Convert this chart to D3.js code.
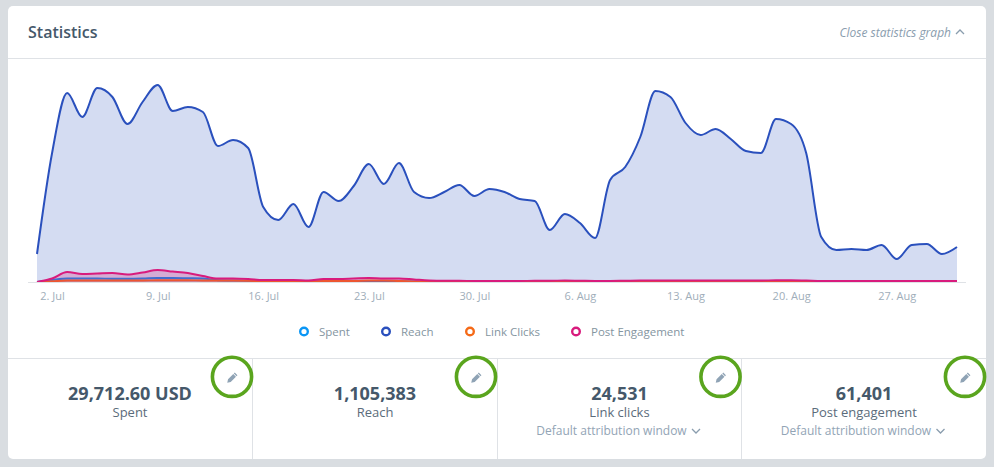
<!DOCTYPE html>
<html>
<head>
<meta charset="utf-8">
<style>
html, body { margin: 0; padding: 0; background: #d9dde1; }
svg { display: block; font-family: 'Open Sans', sans-serif; }
</style>
<script src="https://cdn.jsdelivr.net/npm/d3@7"></script>
</head>
<body>
<svg></svg>
<script>
const startDay = Date.UTC( 2018, 6, 1 ),
	dayMs = 86400000

// daily values
const reach = [
	5600, 25800, 37800, 33000, 38800, 37000, 31600, 36000, 39400, 34200,
	35000, 34000, 27200, 28400, 26800, 15000, 12400, 15600, 11000, 18000,
	16200, 19200, 23600, 19600, 23800, 18000, 16800, 18000, 19400, 17200,
	18600, 18000, 16600, 16200, 10400, 13600, 11800, 8800, 20400, 23000,
	29000, 38200, 37000, 31800, 29400, 30600, 28600, 26200, 25800, 32600,
	31600, 25800, 9000, 6400, 6600, 6400, 7400, 4600, 7400, 7600,
	5600, 7000
]
const postEngagement = [
	0, 700, 2000, 1600, 1700, 1800, 1500, 1900, 2400, 2100,
	1800, 1200, 700, 700, 600, 400, 400, 400, 300, 600,
	600, 700, 800, 700, 700, 500, 300, 250, 250, 200,
	200, 200, 200, 250, 250, 300, 250, 200, 200, 250,
	300, 300, 300, 300, 300, 300, 300, 300, 300, 350,
	350, 300, 200, 200, 200, 200, 200, 200, 200, 200,
	200, 200
]
const linkClicks = [
	0, 150, 300, 300, 300, 300, 300, 300, 350, 350,
	350, 300, 300, 300, 250, 100, 100, 100, 100, 200,
	200, 200, 300, 300, 200, 100, 50, 50, 50, 50,
	50, 50, 50, 50, 50, 50, 50, 50, 50, 50,
	50, 100, 100, 100, 100, 100, 100, 100, 100, 100,
	100, 100, 50, 50, 50, 50, 50, 50, 50, 50,
	50, 50
]
const spent = [
	0, 400, 700, 700, 700, 650, 650, 700, 800, 800,
	750, 700, 350, 300, 250, 100, 100, 100, 100, 150,
	150, 200, 200, 200, 150, 100, 50, 50, 50, 50,
	50, 50, 50, 50, 50, 50, 50, 50, 50, 50,
	50, 50, 50, 50, 50, 50, 50, 50, 50, 50,
	50, 50, 50, 50, 50, 50, 50, 50, 50, 50,
	50, 50
]
const seriesNames = [ 'Spent', 'Reach', 'Link Clicks', 'Post Engagement' ]
const seriesValues = [ spent, reach, linkClicks, postEngagement ]
const seriesColors = [ '#0a96f5', '#2a50bd', '#f56a18', '#d81b7d' ]
const fillOpacity = [ 0.2, 0.2, 0.2, 0.25 ]
const legendX = [ 304, 386, 470, 576 ]

const tickDays = [ 1, 8, 15, 22, 29, 36, 43, 50, 57 ]

const statNumbers = [ '29,712.60 USD', '1,105,383', '24,531', '61,401' ]
const statLabels = [ 'Spent', 'Reach', 'Link clicks', 'Post engagement' ]
const statWindow = [ false, false, true, true ]
const statCenters = [ 130, 375, 619.5, 864 ]
const ringCenters = [ 232, 476, 720.5, 965 ]
const dividers = [ 252.5, 497.5, 741.5 ]

const WIDTH = 994,
	HEIGHT = 467,
	BASE = 282

const svg = d3.select( 'svg' ).attr( 'width', WIDTH ).attr( 'height', HEIGHT )

// card
svg.append( 'rect' )
	.attr( 'x', 8 ).attr( 'y', 6 )
	.attr( 'width', 970 + 8 ).attr( 'height', 453 )
	.attr( 'rx', 5 )
	.attr( 'fill', '#fff' )

const rule = ( x1, y1, x2, y2 ) => svg.append( 'line' )
	.attr( 'x1', x1 ).attr( 'y1', y1 ).attr( 'x2', x2 ).attr( 'y2', y2 )
	.attr( 'stroke', '#dfe2e6' )

rule( 8, 58.5, 986, 58.5 )
rule( 8, 358.5, 986, 358.5 )
dividers.forEach( d => rule( d, 358.5, d, 459 ) )

svg.append( 'text' )
	.attr( 'x', 28 ).attr( 'y', 38 )
	.attr( 'font-size', 16 ).attr( 'font-weight', 600 )
	.attr( 'fill', '#45586a' )
	.text( 'Statistics' )

svg.append( 'text' )
	.attr( 'x', 951 ).attr( 'y', 37 )
	.attr( 'text-anchor', 'end' )
	.attr( 'font-size', 12 ).attr( 'font-style', 'italic' )
	.attr( 'fill', '#8a9dae' )
	.text( 'Close statistics graph' )

const chevron = ( cx, cy, up ) => svg.append( 'path' )
	.attr( 'd', `M${cx - 4},${cy + ( up ? 2 : -2 )}L${cx},${cy + ( up ? -2 : 2 )}L${cx + 4},${cy + ( up ? 2 : -2 )}` )
	.attr( 'fill', 'none' )
	.attr( 'stroke', '#8a9dae' )
	.attr( 'stroke-width', 1.3 )

chevron( 960, 32, true )

// chart
const x = d3.scaleUtc()
	.domain( [ startDay, startDay + dayMs * ( reach.length - 1 ) ] )
	.range( [ 37, 957 ] )
const y = d3.scaleLinear().domain( [ 0, 40000 ] ).range( [ BASE, 82 ] )

const dateOf = i => new Date( startDay + dayMs * i )

const area = d3.area()
	.x( ( d, i ) => x( dateOf( i ) ) )
	.y0( y( 0 ) )
	.y1( d => y( d ) )
	.curve( d3.curveMonotoneX )
const line = d3.line()
	.x( ( d, i ) => x( dateOf( i ) ) )
	.y( d => y( d ) )
	.curve( d3.curveMonotoneX )

seriesValues.forEach( ( values, s ) => {
	svg.append( 'path' )
		.datum( values )
		.attr( 'fill', seriesColors[ s ] )
		.attr( 'fill-opacity', fillOpacity[ s ] )
		.attr( 'd', area )
	svg.append( 'path' )
		.datum( values )
		.attr( 'fill', 'none' )
		.attr( 'stroke', seriesColors[ s ] )
		.attr( 'stroke-width', 2 )
		.attr( 'stroke-linejoin', 'round' )
		.attr( 'd', line )
})

rule( 28, BASE + 0.5, 966, BASE + 0.5 )

const axis = svg.append( 'g' )
	.attr( 'transform', `translate( 0, ${BASE} )` )
	.call( d3.axisBottom( x )
		.tickValues( tickDays.map( dateOf ) )
		.tickFormat( d3.utcFormat( '%-d. %b' ) )
		.tickSize( 0 )
		.tickPadding( 10 ) )
axis.select( '.domain' ).remove()
axis.selectAll( 'text' )
	.attr( 'font-family', "'Open Sans', sans-serif" )
	.attr( 'font-size', 11 )
	.attr( 'fill', '#a0aeba' )

// legend
seriesNames.forEach( ( name, s ) => {
	svg.append( 'circle' )
		.attr( 'cx', legendX[ s ] ).attr( 'cy', 331.5 ).attr( 'r', 3.8 )
		.attr( 'fill', '#fff' )
		.attr( 'stroke', seriesColors[ s ] )
		.attr( 'stroke-width', 2.4 )
	svg.append( 'text' )
		.attr( 'x', legendX[ s ] + 15 ).attr( 'y', 336 )
		.attr( 'font-size', 11.5 )
		.attr( 'fill', '#84959f' )
		.text( name )
})

// stat boxes
statNumbers.forEach( ( num, i ) => {
	const cx = statCenters[ i ]
	svg.append( 'text' )
		.attr( 'x', cx ).attr( 'y', 400 )
		.attr( 'text-anchor', 'middle' )
		.attr( 'font-size', 18 ).attr( 'font-weight', 700 )
		.attr( 'fill', '#45586a' )
		.text( num )
	svg.append( 'text' )
		.attr( 'x', cx ).attr( 'y', 417 )
		.attr( 'text-anchor', 'middle' )
		.attr( 'font-size', 13 )
		.attr( 'fill', '#5b6c7b' )
		.text( statLabels[ i ] )
	if ( statWindow[ i ] ) {
		svg.append( 'text' )
			.attr( 'x', cx - 8 ).attr( 'y', 435 )
			.attr( 'text-anchor', 'middle' )
			.attr( 'font-size', 12 )
			.attr( 'fill', '#92a4b5' )
			.text( 'Default attribution window' )
		chevron( cx + 76.5, 431, false )
	}
	const rx = ringCenters[ i ]
	// pencil
	svg.append( 'path' )
		.attr( 'transform', `translate( ${rx - 0.5}, 378.5 ) rotate( 45 )` )
		.attr( 'd', 'M-1.9,-6.5L1.9,-6.5L1.9,-5.2L-1.9,-5.2ZM-1.9,-4.4L1.9,-4.4L1.9,3L0,6L-1.9,3Z' )
		.attr( 'fill', '#8fa3b5' )
	svg.append( 'circle' )
		.attr( 'cx', rx ).attr( 'cy', 376.8 ).attr( 'r', 19.6 )
		.attr( 'fill', 'none' )
		.attr( 'stroke', '#5aa51e' )
		.attr( 'stroke-width', 3.6 )
})
</script>
</body>
</html>
